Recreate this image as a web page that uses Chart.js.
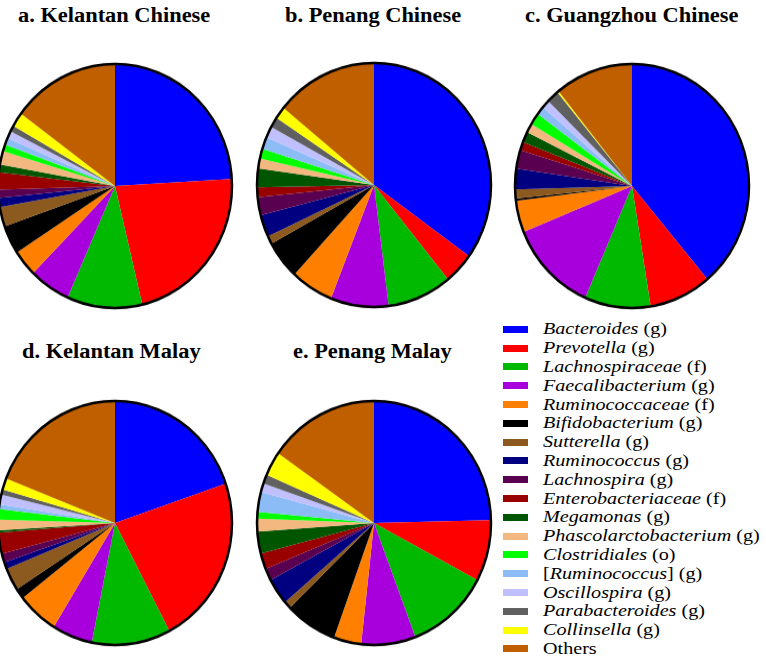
<!DOCTYPE html>
<html>
<head>
<meta charset="utf-8">
<script src="https://cdn.jsdelivr.net/npm/chart.js@4.4.0/dist/chart.umd.min.js"></script>
<style>
  html, body { margin: 0; padding: 0; background: #fff; }
  body { width: 766px; height: 658px; position: relative; overflow: hidden; font-family: "Liberation Serif", "Times New Roman", serif; }
  .pie { position: absolute; width: 240px; height: 240px; transform: scaleY(1.043); }
  .title { position: absolute; font-weight: bold; font-size: 20px; white-space: nowrap; color: #000;
           transform: scaleX(1.12); transform-origin: left top; }
  #legend { position: absolute; left: 503px; top: 320px; }
  .row { height: 18.8px; display: flex; align-items: center; font-size: 16.5px; white-space: nowrap; }
  .sw { width: 25px; height: 7px; margin-right: 15px; flex: none; }
  .lbl { display: inline-block; transform: scaleX(1.22); transform-origin: left center; }
</style>
</head>
<body>

<script>
// taxa shown in every pie, clockwise from 12 o'clock
const taxa = ['Bacteroides', 'Prevotella', 'Lachnospiraceae', 'Faecalibacterium', 'Ruminococcaceae',
  'Bifidobacterium', 'Sutterella', 'Ruminococcus', 'Lachnospira', 'Enterobacteriaceae', 'Megamonas',
  'Phascolarctobacterium', 'Clostridiales', '[Ruminococcus]', 'Oscillospira', 'Parabacteroides',
  'Collinsella', 'Others'];
const ranks = ['g', 'g', 'f', 'g', 'f', 'g', 'g', 'g', 'g', 'f', 'g', 'g', 'o', 'g', 'g', 'g', 'g', ''];
const colors = ['#0000ff', '#ff0000', '#00b900', '#a800dc', '#ff8000', '#000000', '#8c5a1e', '#000080',
  '#5a0050', '#990000', '#005500', '#f2b880', '#00ff00', '#8cbcf5', '#c0c0ff', '#606060', '#ffff00', '#c05f00'];

// relative abundance (%) per cohort
const kelantanChinese = [24.1, 22.2, 10.4, 5.7, 3.5, 3.8, 2.6, 1.2, 1.1, 2.3, 1.0, 1.8, 0.9, 0.9, 1.0, 0.8, 1.9, 14.9];
const penangChinese   = [34.9, 4.2, 8.9, 8.0, 5.9, 5.1, 1.1, 2.9, 2.4, 1.3, 2.5, 1.3, 1.3, 1.6, 1.5, 1.4, 1.6, 14.1];
const guangzhouChinese = [38.8, 8.6, 9.1, 12.3, 4.2, 0.3, 1.2, 2.7, 2.5, 1.1, 1.4, 1.2, 1.6, 1.1, 1.1, 1.7, 0.2, 10.8];
const kelantanMalay   = [19.8, 22.6, 10.9, 5.6, 5.7, 1.4, 3.0, 0.9, 1.2, 2.8, 0.3, 1.4, 1.4, 0.6, 1.3, 0.7, 1.5, 19.1];
const penangMalay     = [24.6, 8.1, 11.5, 7.5, 3.8, 7.2, 1.0, 3.5, 1.6, 2.1, 2.9, 1.7, 0.9, 2.6, 1.2, 1.2, 3.2, 15.3];

const panels = [
  { title: 'a. Kelantan Chinese', data: kelantanChinese, cx: 115, cy: 185.5, tx: 18, ty: 4 },
  { title: 'b. Penang Chinese', data: penangChinese, cx: 373.5, cy: 185, tx: 285, ty: 4 },
  { title: 'c. Guangzhou Chinese', data: guangzhouChinese, cx: 631.5, cy: 186, tx: 525, ty: 4 },
  { title: 'd. Kelantan Malay', data: kelantanMalay, cx: 115, cy: 523, tx: 22, ty: 340 },
  { title: 'e. Penang Malay', data: penangMalay, cx: 374, cy: 523, tx: 293, ty: 340 }
];

// black rim round the whole pie, no lines between slices
const rim = {
  id: 'rim',
  afterDatasetsDraw(chart) {
    const arc = chart.getDatasetMeta(0).data[0];
    const ctx = chart.ctx;
    ctx.save();
    ctx.beginPath();
    ctx.arc(arc.x, arc.y, arc.outerRadius, 0, Math.PI * 2);
    ctx.lineWidth = 2.5;
    ctx.strokeStyle = '#000';
    ctx.stroke();
    ctx.restore();
  }
};

panels.forEach(p => {
  const t = document.createElement('div');
  t.className = 'title';
  t.style.left = p.tx + 'px';
  t.style.top = p.ty + 'px';
  t.textContent = p.title;
  document.body.appendChild(t);

  const c = document.createElement('canvas');
  c.className = 'pie';
  c.width = 240;
  c.height = 240;
  c.style.left = (p.cx - 120) + 'px';
  c.style.top = (p.cy - 120) + 'px';
  document.body.appendChild(c);

  new Chart(c, {
    type: 'pie',
    data: {
      labels: taxa,
      datasets: [{ data: p.data, backgroundColor: colors, borderWidth: 0 }]
    },
    options: {
      responsive: false,
      animation: false,
      layout: { padding: 3 },
      plugins: { legend: { display: false }, tooltip: { enabled: false } }
    },
    plugins: [rim]
  });
});

// legend: genus/family names in italics, rank in plain type
const legend = document.createElement('div');
legend.id = 'legend';
taxa.forEach((name, i) => {
  const row = document.createElement('div');
  row.className = 'row';
  const sw = document.createElement('span');
  sw.className = 'sw';
  sw.style.background = colors[i];
  row.appendChild(sw);
  const label = document.createElement('span');
  label.className = 'lbl';
  if (!ranks[i]) {
    label.textContent = name;
  } else if (name.startsWith('[')) {
    label.innerHTML = '[<i>' + name.slice(1, -1) + '</i>] (' + ranks[i] + ')';
  } else {
    label.innerHTML = '<i>' + name + '</i> (' + ranks[i] + ')';
  }
  row.appendChild(label);
  legend.appendChild(row);
});
document.body.appendChild(legend);
</script>
</body>
</html>
